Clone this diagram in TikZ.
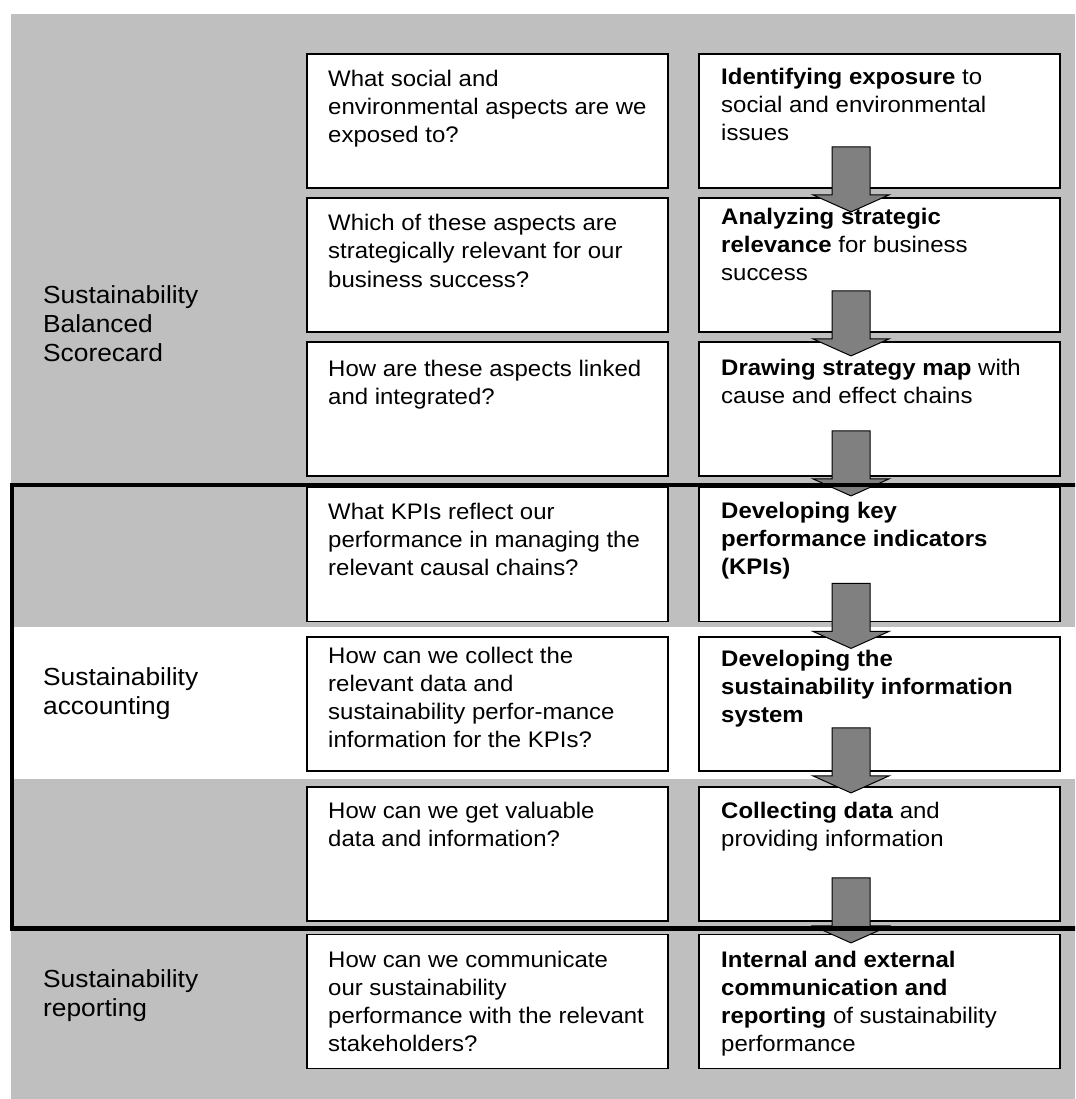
\documentclass[tikz,border=0pt]{standalone}
\usepackage{fontspec}
\setmainfont{Liberation Sans}[FakeStretch=1.065]
\usetikzlibrary{calc}
\definecolor{bggray}{RGB}{191,191,191}
\definecolor{arrgray}{RGB}{128,128,128}
\tikzset{
  qbox/.style={draw=black, line width=1.8pt, fill=white, minimum width=361pt, minimum height=134pt, inner sep=0pt},
  btext/.style={anchor=base west, align=left, inner sep=0pt, font=\fontsize{22.5}{28}\selectfont},
  ltext/.style={anchor=base west, align=left, inner sep=0pt, font=\fontsize{24.7}{29}\selectfont},
  blockarrow/.pic={\draw[fill=arrgray, draw=black, line width=1pt]
     (-19,0) -- (19,0) -- (19,48) -- (38,48) -- (0,65) -- (-38,48) -- (-19,48) -- cycle;}
}
\begin{document}
\begin{tikzpicture}[x=1pt,y=-1pt]
\useasboundingbox (0,0) rectangle (1075,1099);
\clip (0,0) rectangle (1075,1099);
% backgrounds
\fill[white] (0,0) rectangle (1075,1099);
\fill[bggray] (11,14) rectangle (1075,1099);
\fill[white] (11,627) rectangle (1075,779);
% boxes
\foreach \i/\cy in {1/121,2/265,3/409,4/554.5,5/704,6/854,7/1001.5}{
  \node[qbox] (l\i) at (487.5,\cy) {};
  \node[qbox] (r\i) at (879.5,\cy) {};
}
% left column texts (positions are baselines of the last line)
\node[btext] (l1t) at (328,143) {What social and\\environmental aspects are we\\exposed to?};
\node[btext] (l2t) at (328,287) {Which of these aspects are\\strategically relevant for our\\business success?};
\node[btext] (l3t) at (328,404) {How are these aspects linked\\and integrated?};
\node[btext] (l4t) at (328,575) {What KPIs reflect our\\performance in managing the\\relevant causal chains?};
\node[btext] (l5t) at (328,747) {How can we collect the\\relevant data and\\sustainability perfor-mance\\information for the KPIs?};
\node[btext] (l6t) at (328,846) {How can we get valuable\\data and information?};
\node[btext] (l7t) at (328,1051) {How can we communicate\\our sustainability\\performance with the relevant\\stakeholders?};
% right column texts
\node[btext] (r1t) at (721,141) {\textbf{Identifying exposure} to\\social and environmental\\issues};
\node[btext] (r2t) at (721,280) {\textbf{Analyzing strategic}\\\textbf{relevance} for business\\success};
\node[btext] (r3t) at (721,403) {\textbf{Drawing strategy map} with\\cause and effect chains};
\node[btext] (r4t) at (721,574) {\textbf{Developing key}\\\textbf{performance indicators}\\\textbf{(KPIs)}};
\node[btext] (r5t) at (721,722) {\textbf{Developing the}\\\textbf{sustainability information}\\\textbf{system}};
\node[btext] (r6t) at (721,846) {\textbf{Collecting data} and\\providing information};
\node[btext] (r7t) at (721,1051) {\textbf{Internal and external}\\\textbf{communication and}\\\textbf{reporting} of sustainability\\performance};
% left labels
\node[ltext] (sbs) at (43,361) {Sustainability\\Balanced\\Scorecard};
\node[ltext] (sa) at (43,714) {Sustainability\\accounting};
\node[ltext] (sr) at (43,1016) {Sustainability\\reporting};
% block arrows
\foreach \i/\off in {1/42,2/42,3/46,4/39,5/44,6/44}{
  \pic at ($(r\i.south)+(-28.5,-\off)$) {blockarrow};
}
% thick frame around accounting section
\draw[line width=4.5pt] (1090,485) -- (12,485) -- (12,928.5) -- (1090,928.5);
\end{tikzpicture}
\end{document}
